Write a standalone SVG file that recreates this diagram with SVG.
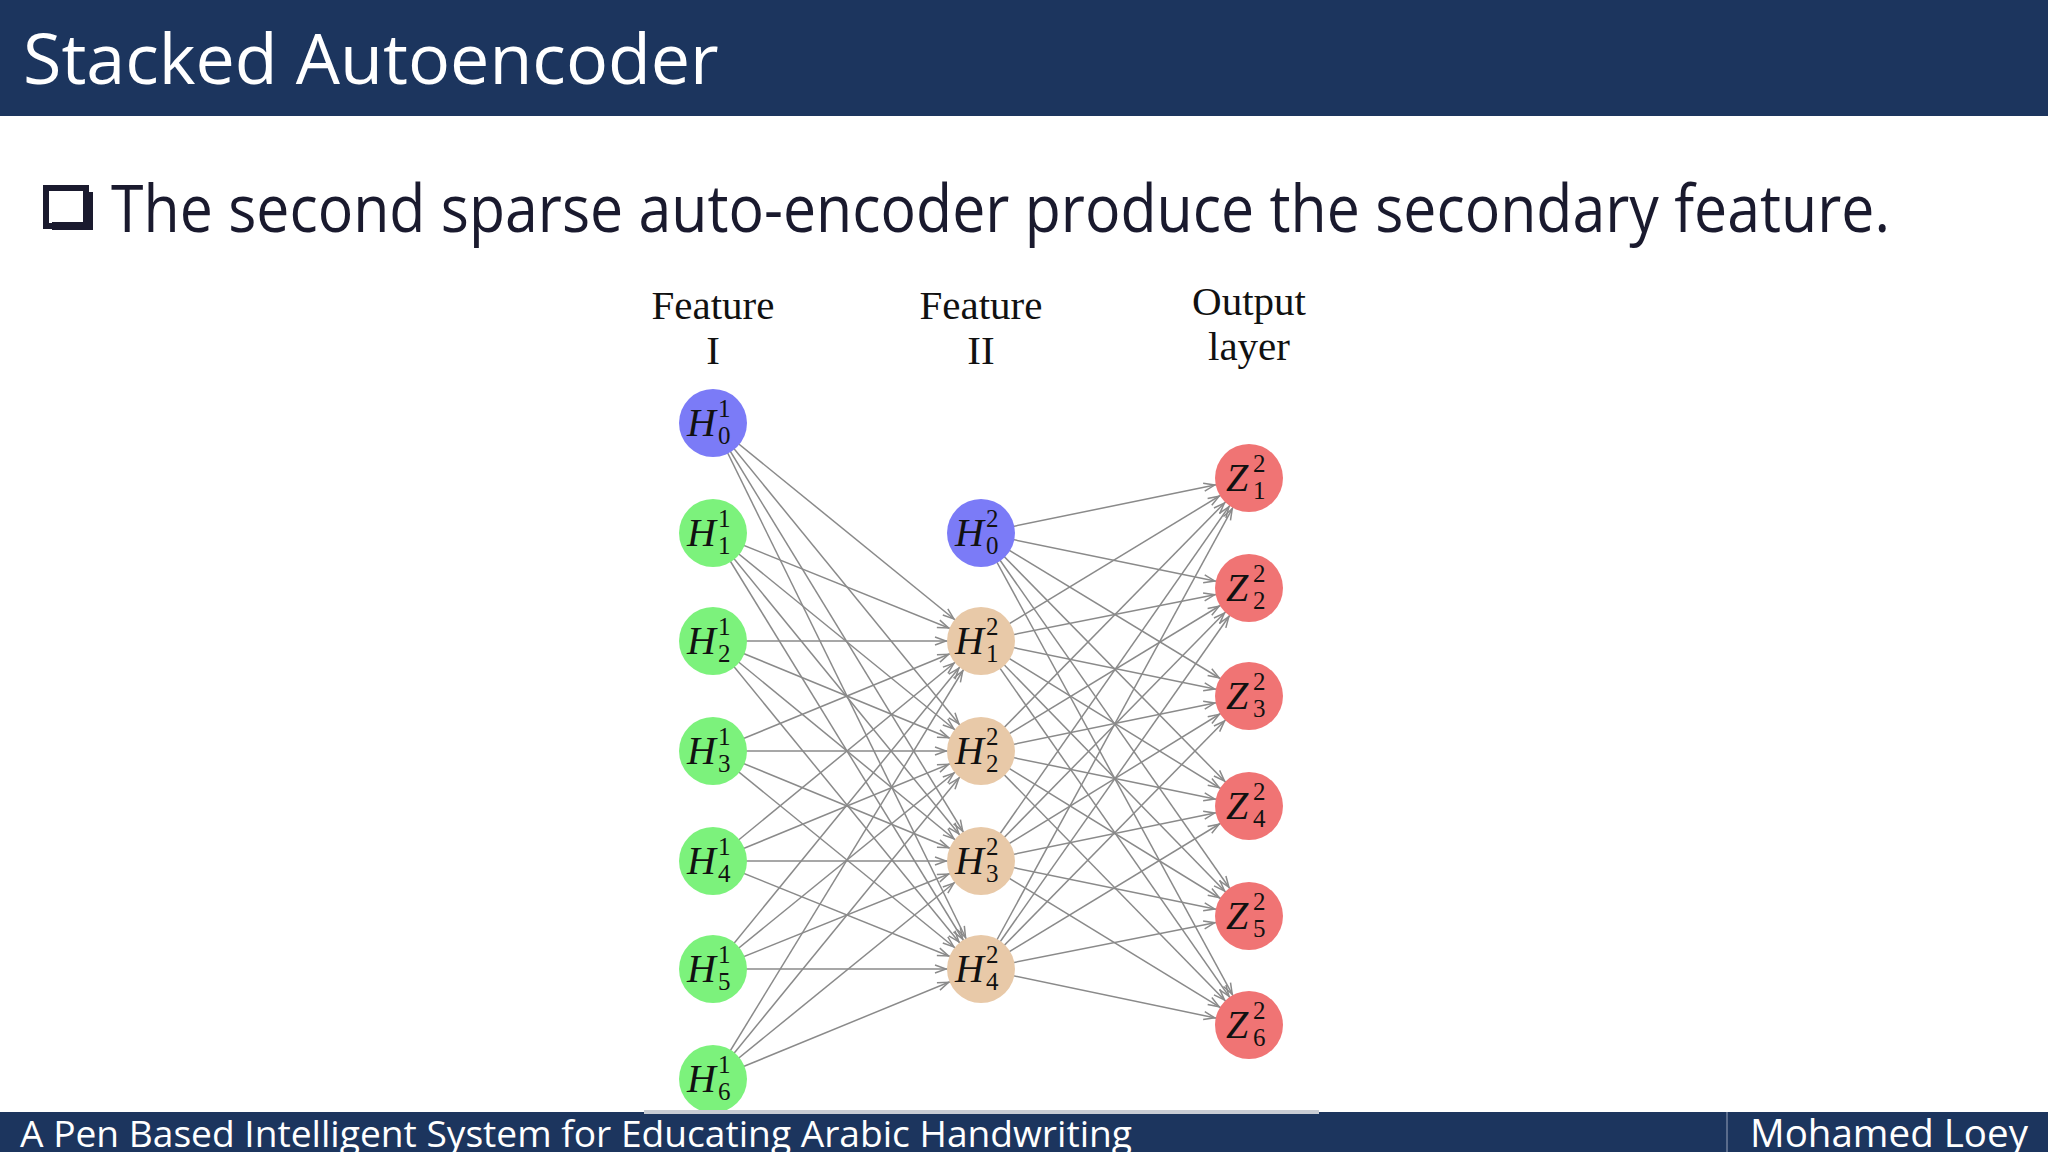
<svg xmlns="http://www.w3.org/2000/svg" width="2048" height="1152" viewBox="0 0 2048 1152">
<defs>
<style>
.hdr{fill:#1c355e}
.title{font-family:"Open Sans","Liberation Sans",sans-serif;fill:#fff}
.body{font-family:"Open Sans","Liberation Sans",sans-serif;fill:#1a1a2e}
.col{font-family:"Liberation Serif",serif;font-size:41px;fill:#111;text-anchor:middle}
.v{font-family:"Liberation Serif",serif;font-style:italic;font-size:40px;fill:#111}
.s{font-family:"Liberation Serif",serif;font-size:25px;fill:#111}
.e{stroke:#8a8a8a;stroke-width:1.5;marker-end:url(#ah)}
.b{fill:#7b7bf7}.g{fill:#7cf27c}.t{fill:#e8c9a8}.r{fill:#f07474}
</style>
<marker id="ah" viewBox="-50 -8 50 16" refX="0" refY="0" markerWidth="50" markerHeight="16" markerUnits="userSpaceOnUse" orient="auto">
<path d="M-46,-4 L-35,0 L-46,4" fill="none" stroke="#8a8a8a" stroke-width="1.5"/>
</marker>
</defs>
<rect width="2048" height="1152" fill="#fff"/>
<rect class="hdr" x="0" y="0" width="2048" height="116"/>
<text class="title" x="23" y="84" font-size="70">Stacked Autoencoder</text>
<rect x="46" y="188" width="40" height="38" fill="none" stroke="#1a1a2e" stroke-width="6"/>
<rect x="52" y="222" width="40" height="8" fill="#1a1a2e"/>
<rect x="86" y="192" width="7" height="38" fill="#1a1a2e"/>
<text class="body" x="111" y="232" font-size="66" textLength="1779" lengthAdjust="spacingAndGlyphs">The second sparse auto-encoder produce the secondary feature.</text>
<text class="col" x="713" y="319">Feature</text><text class="col" x="713" y="364">I</text>
<text class="col" x="981" y="319">Feature</text><text class="col" x="981" y="364">II</text>
<text class="col" x="1249" y="315">Output</text><text class="col" x="1249" y="360">layer</text>
<g id="connectors">
<line class="e" x1="713" y1="423" x2="981" y2="641"/><line class="e" x1="713" y1="423" x2="981" y2="751"/><line class="e" x1="713" y1="423" x2="981" y2="861"/><line class="e" x1="713" y1="423" x2="981" y2="969"/>
<line class="e" x1="713" y1="533" x2="981" y2="641"/><line class="e" x1="713" y1="533" x2="981" y2="751"/><line class="e" x1="713" y1="533" x2="981" y2="861"/><line class="e" x1="713" y1="533" x2="981" y2="969"/>
<line class="e" x1="713" y1="641" x2="981" y2="641"/><line class="e" x1="713" y1="641" x2="981" y2="751"/><line class="e" x1="713" y1="641" x2="981" y2="861"/><line class="e" x1="713" y1="641" x2="981" y2="969"/>
<line class="e" x1="713" y1="751" x2="981" y2="641"/><line class="e" x1="713" y1="751" x2="981" y2="751"/><line class="e" x1="713" y1="751" x2="981" y2="861"/><line class="e" x1="713" y1="751" x2="981" y2="969"/>
<line class="e" x1="713" y1="861" x2="981" y2="641"/><line class="e" x1="713" y1="861" x2="981" y2="751"/><line class="e" x1="713" y1="861" x2="981" y2="861"/><line class="e" x1="713" y1="861" x2="981" y2="969"/>
<line class="e" x1="713" y1="969" x2="981" y2="641"/><line class="e" x1="713" y1="969" x2="981" y2="751"/><line class="e" x1="713" y1="969" x2="981" y2="861"/><line class="e" x1="713" y1="969" x2="981" y2="969"/>
<line class="e" x1="713" y1="1079" x2="981" y2="641"/><line class="e" x1="713" y1="1079" x2="981" y2="751"/><line class="e" x1="713" y1="1079" x2="981" y2="861"/><line class="e" x1="713" y1="1079" x2="981" y2="969"/>
<line class="e" x1="981" y1="533" x2="1249" y2="478"/><line class="e" x1="981" y1="533" x2="1249" y2="588"/><line class="e" x1="981" y1="533" x2="1249" y2="696"/><line class="e" x1="981" y1="533" x2="1249" y2="806"/><line class="e" x1="981" y1="533" x2="1249" y2="916"/><line class="e" x1="981" y1="533" x2="1249" y2="1025"/>
<line class="e" x1="981" y1="641" x2="1249" y2="478"/><line class="e" x1="981" y1="641" x2="1249" y2="588"/><line class="e" x1="981" y1="641" x2="1249" y2="696"/><line class="e" x1="981" y1="641" x2="1249" y2="806"/><line class="e" x1="981" y1="641" x2="1249" y2="916"/><line class="e" x1="981" y1="641" x2="1249" y2="1025"/>
<line class="e" x1="981" y1="751" x2="1249" y2="478"/><line class="e" x1="981" y1="751" x2="1249" y2="588"/><line class="e" x1="981" y1="751" x2="1249" y2="696"/><line class="e" x1="981" y1="751" x2="1249" y2="806"/><line class="e" x1="981" y1="751" x2="1249" y2="916"/><line class="e" x1="981" y1="751" x2="1249" y2="1025"/>
<line class="e" x1="981" y1="861" x2="1249" y2="478"/><line class="e" x1="981" y1="861" x2="1249" y2="588"/><line class="e" x1="981" y1="861" x2="1249" y2="696"/><line class="e" x1="981" y1="861" x2="1249" y2="806"/><line class="e" x1="981" y1="861" x2="1249" y2="916"/><line class="e" x1="981" y1="861" x2="1249" y2="1025"/>
<line class="e" x1="981" y1="969" x2="1249" y2="478"/><line class="e" x1="981" y1="969" x2="1249" y2="588"/><line class="e" x1="981" y1="969" x2="1249" y2="696"/><line class="e" x1="981" y1="969" x2="1249" y2="806"/><line class="e" x1="981" y1="969" x2="1249" y2="916"/><line class="e" x1="981" y1="969" x2="1249" y2="1025"/>
</g>
<g id="h1_0"><circle class="b" cx="713" cy="423" r="34"/><text class="v" x="687" y="436">H</text><text class="s" x="718" y="417">1</text><text class="s" x="718" y="444">0</text></g>
<g id="h1_1"><circle class="g" cx="713" cy="533" r="34"/><text class="v" x="687" y="546">H</text><text class="s" x="718" y="527">1</text><text class="s" x="718" y="554">1</text></g>
<g id="h1_2"><circle class="g" cx="713" cy="641" r="34"/><text class="v" x="687" y="654">H</text><text class="s" x="718" y="635">1</text><text class="s" x="718" y="662">2</text></g>
<g id="h1_3"><circle class="g" cx="713" cy="751" r="34"/><text class="v" x="687" y="764">H</text><text class="s" x="718" y="745">1</text><text class="s" x="718" y="772">3</text></g>
<g id="h1_4"><circle class="g" cx="713" cy="861" r="34"/><text class="v" x="687" y="874">H</text><text class="s" x="718" y="855">1</text><text class="s" x="718" y="882">4</text></g>
<g id="h1_5"><circle class="g" cx="713" cy="969" r="34"/><text class="v" x="687" y="982">H</text><text class="s" x="718" y="963">1</text><text class="s" x="718" y="990">5</text></g>
<g id="h1_6"><circle class="g" cx="713" cy="1079" r="34"/><text class="v" x="687" y="1092">H</text><text class="s" x="718" y="1073">1</text><text class="s" x="718" y="1100">6</text></g>
<g id="h2_0"><circle class="b" cx="981" cy="533" r="34"/><text class="v" x="955" y="546">H</text><text class="s" x="986" y="527">2</text><text class="s" x="986" y="554">0</text></g>
<g id="h2_1"><circle class="t" cx="981" cy="641" r="34"/><text class="v" x="955" y="654">H</text><text class="s" x="986" y="635">2</text><text class="s" x="986" y="662">1</text></g>
<g id="h2_2"><circle class="t" cx="981" cy="751" r="34"/><text class="v" x="955" y="764">H</text><text class="s" x="986" y="745">2</text><text class="s" x="986" y="772">2</text></g>
<g id="h2_3"><circle class="t" cx="981" cy="861" r="34"/><text class="v" x="955" y="874">H</text><text class="s" x="986" y="855">2</text><text class="s" x="986" y="882">3</text></g>
<g id="h2_4"><circle class="t" cx="981" cy="969" r="34"/><text class="v" x="955" y="982">H</text><text class="s" x="986" y="963">2</text><text class="s" x="986" y="990">4</text></g>
<g id="z1"><circle class="r" cx="1249" cy="478" r="34"/><text class="v" x="1226" y="491">Z</text><text class="s" x="1253" y="472">2</text><text class="s" x="1253" y="499">1</text></g>
<g id="z2"><circle class="r" cx="1249" cy="588" r="34"/><text class="v" x="1226" y="601">Z</text><text class="s" x="1253" y="582">2</text><text class="s" x="1253" y="609">2</text></g>
<g id="z3"><circle class="r" cx="1249" cy="696" r="34"/><text class="v" x="1226" y="709">Z</text><text class="s" x="1253" y="690">2</text><text class="s" x="1253" y="717">3</text></g>
<g id="z4"><circle class="r" cx="1249" cy="806" r="34"/><text class="v" x="1226" y="819">Z</text><text class="s" x="1253" y="800">2</text><text class="s" x="1253" y="827">4</text></g>
<g id="z5"><circle class="r" cx="1249" cy="916" r="34"/><text class="v" x="1226" y="929">Z</text><text class="s" x="1253" y="910">2</text><text class="s" x="1253" y="937">5</text></g>
<g id="z6"><circle class="r" cx="1249" cy="1025" r="34"/><text class="v" x="1226" y="1038">Z</text><text class="s" x="1253" y="1019">2</text><text class="s" x="1253" y="1046">6</text></g>
<rect class="hdr" x="0" y="1112" width="2048" height="40"/>
<rect x="644" y="1110" width="675" height="4" fill="#c8ccd4"/>
<line x1="1727" y1="1112" x2="1727" y2="1152" stroke="#5a6c8c" stroke-width="2"/>
<text class="title" x="20" y="1147" font-size="36" textLength="1112" lengthAdjust="spacingAndGlyphs">A Pen Based Intelligent System for Educating Arabic Handwriting</text>
<text class="title" x="1750" y="1147" font-size="38" textLength="278" lengthAdjust="spacingAndGlyphs">Mohamed Loey</text>
</svg>
